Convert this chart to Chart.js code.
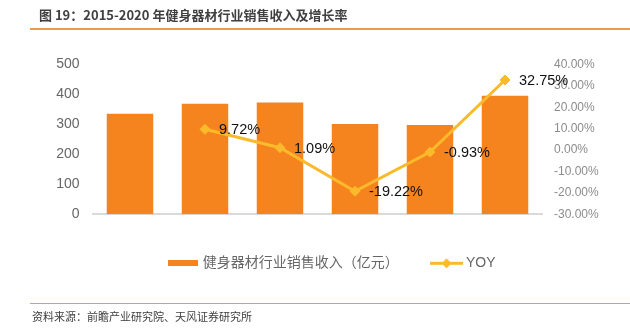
<!DOCTYPE html>
<html><head><meta charset="utf-8">
<script src="https://cdn.jsdelivr.net/npm/chart.js@4.4.0/dist/chart.umd.min.js"></script>
<style>
html,body{margin:0;padding:0;background:#fff;}
#wrap{position:relative;width:630px;height:332px;overflow:hidden;background:#fff;}
#c{position:absolute;left:0;top:0;}
.title{position:absolute;left:39px;top:6px;font-weight:bold;font-size:13px;font-family:'Noto Sans CJK SC',sans-serif;color:#404040;line-height:18px;white-space:nowrap}
.rule{position:absolute;left:30px;width:600px;height:2px;background:#F39A45}
.src{position:absolute;left:32px;top:308px;font-size:11px;font-family:'Noto Sans CJK SC',sans-serif;color:#404040;line-height:16px;white-space:nowrap}
</style></head>
<body><div id="wrap">
<canvas id="c" width="630" height="332"></canvas>
<div class="title">图 19：2015-2020 年健身器材行业销售收入及增长率</div>
<div class="rule" style="top:27.5px"></div>
<div class="rule" style="top:302.5px;height:1.5px"></div>
<div class="src">资料来源：前瞻产业研究院、天风证券研究所</div>
</div>
<script>
const categories = ['2015','2016','2017','2018','2019','2020'];
const revenue = [336, 369, 373, 301, 298, 396];
const yoy = [null, 9.72, 1.09, -19.22, -0.93, 32.75];
const leftTicks = [0, 100, 200, 300, 400, 500];
const rightTicks = [-30, -20, -10, 0, 10, 20, 30, 40];
const seriesNames = ['健身器材行业销售收入（亿元）', 'YOY'];

const BAR = '#F5841F';
const LINE = '#FBBA2B';
const FONT = "'Liberation Sans', Arial, 'Noto Sans CJK SC', sans-serif";

const barImg = document.createElement('canvas');
barImg.width = 30; barImg.height = 6;
(function(){ const g = barImg.getContext('2d'); g.fillStyle = BAR; g.fillRect(0,0,30,6); })();
const lineImg = document.createElement('canvas');
lineImg.width = 33; lineImg.height = 11;
(function(){
  const g = lineImg.getContext('2d');
  g.fillStyle = LINE; g.fillRect(0,4,33,3);
  g.beginPath(); g.moveTo(16.5,0.5); g.lineTo(21.5,5.5); g.lineTo(16.5,10.5); g.lineTo(11.5,5.5); g.closePath(); g.fill();
})();

const labelPlugin = {
  id: 'yoyLabels',
  afterDatasetsDraw(chart) {
    const meta = chart.getDatasetMeta(1);
    const ctx = chart.ctx;
    ctx.save();
    ctx.font = "14.5px " + FONT;
    ctx.fillStyle = '#111';
    ctx.textBaseline = 'middle';
    ctx.textAlign = 'left';
    meta.data.forEach((pt, i) => {
      const v = yoy[i];
      if (v == null) return;
      ctx.fillText(v.toFixed(2) + '%', pt.x + 14, pt.y + 1);
    });
    ctx.restore();
  }
};

new Chart(document.getElementById('c'), {
  data: {
    labels: categories,
    datasets: [
      { type: 'bar', label: seriesNames[0], data: revenue, backgroundColor: BAR, yAxisID: 'y', order: 2,
        barPercentage: 0.62, categoryPercentage: 1 },
      { type: 'line', label: seriesNames[1], data: yoy, yAxisID: 'y1', order: 1,
        borderColor: LINE, backgroundColor: LINE, borderWidth: 3,
        pointStyle: 'rectRot', pointRadius: 5, pointBorderColor: LINE, pointBackgroundColor: LINE, pointBorderWidth: 1 }
    ]
  },
  options: {
    responsive: false, animation: false, devicePixelRatio: 1,
    layout: { padding: { left: 36.4, right: 0, top: 64.5, bottom: 51.7 } },
    plugins: {
      tooltip: { enabled: false },
      legend: {
        position: 'bottom',
        labels: {
          usePointStyle: true, pointStyleWidth: 25, padding: 35.2, color: '#666666',
          font: { size: 14, family: FONT },
          generateLabels(chart) {
            const items = Chart.defaults.plugins.legend.labels.generateLabels(chart);
            items.sort((a, b) => a.datasetIndex - b.datasetIndex);
            items.forEach(it => { it.pointStyle = it.datasetIndex === 0 ? barImg : lineImg; });
            return items;
          }
        }
      }
    },
    scales: {
      x: {
        grid: { display: false, drawTicks: false },
        border: { display: true, color: '#DADADA', width: 2 },
        ticks: { padding: 8.7, color: '#666666', font: { size: 14.5, family: FONT } },
        afterFit(s) { s.height = 6.8; }
      },
      y: {
        position: 'left', min: leftTicks[0], max: leftTicks[leftTicks.length - 1],
        grid: { display: false, drawTicks: false }, border: { display: false },
        ticks: { stepSize: leftTicks[1] - leftTicks[0], padding: 13, color: '#666666', font: { size: 14, family: FONT } },
        afterFit(s) { s.width = 56.1; }
      },
      y1: {
        position: 'right', min: rightTicks[0], max: rightTicks[rightTicks.length - 1],
        grid: { display: false, drawTicks: false }, border: { display: false },
        ticks: { stepSize: rightTicks[1] - rightTicks[0], padding: 11.5, color: '#8c8c8c', font: { size: 12, family: FONT },
          callback: v => Number(v).toFixed(2) + '%' },
        afterFit(s) { s.width = 87.5; }
      }
    }
  },
  plugins: [labelPlugin]
});
</script>
</body></html>
